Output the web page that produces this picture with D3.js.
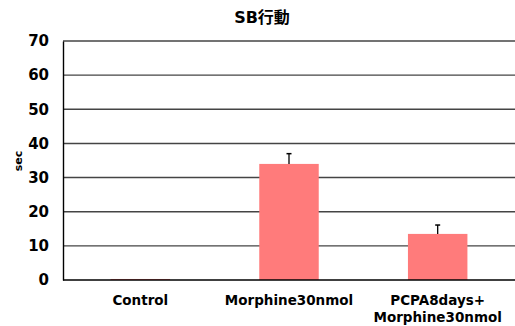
<!DOCTYPE html>
<html>
<head>
<meta charset="utf-8">
<script src="https://cdn.jsdelivr.net/npm/d3@7"></script>
<style>
  body { margin: 0; background: #fff; }
  text { font-family: "DejaVu Sans", "Noto Sans CJK JP", sans-serif; }
</style>
</head>
<body>
<script>
// data
var categories = ["Control", "Morphine30nmol", "PCPA8days+\nMorphine30nmol"];
var values = [0.3, 34, 13.5];
var errors = [0, 3, 2.6];
var yTicks = [0, 10, 20, 30, 40, 50, 60, 70];

var W = 515, H = 326;
var margin = {top: 41, right: 0, bottom: 46, left: 63};
var width = W - margin.left - margin.right,
    height = H - margin.top - margin.bottom;

var svg = d3.select("body").append("svg")
    .attr("width", W)
    .attr("height", H);

var g = svg.append("g")
    .attr("transform", "translate(" + margin.left + "," + margin.top + ")");

var x = d3.scaleBand().domain(categories).range([0, width]).paddingInner(0.6).paddingOuter(0.32);
var y = d3.scaleLinear().domain([0, 70]).range([height, 0]);

// gridlines
g.selectAll(".grid")
    .data(yTicks.slice(1))
    .enter()
    .append("line")
    .attr("x1", 0)
    .attr("x2", width)
    .attr("y1", function (d) { return y(d); })
    .attr("y2", function (d) { return y(d); })
    .attr("stroke", "#444")
    .attr("stroke-width", 1.4);

// bars
g.selectAll(".bar")
    .data(values)
    .enter()
    .append("rect")
    .attr("x", function (d, i) { return x(categories[i]); })
    .attr("y", function (d) { return y(d); })
    .attr("width", x.bandwidth())
    .attr("height", function (d) { return height - y(d); })
    .attr("fill", "#ff7b7b");

// error bars
values.forEach(function (v, i) {
    if (errors[i] <= 0) return;
    var cx = x(categories[i]) + x.bandwidth() / 2;
    g.append("line")
        .attr("x1", cx).attr("x2", cx)
        .attr("y1", y(v)).attr("y2", y(v + errors[i]))
        .attr("stroke", "#000").attr("stroke-width", 1.3);
    g.append("line")
        .attr("x1", cx - 2.5).attr("x2", cx + 2.5)
        .attr("y1", y(v + errors[i])).attr("y2", y(v + errors[i]))
        .attr("stroke", "#000").attr("stroke-width", 1.5);
});

// axes
var yAxis = d3.axisLeft(y).tickValues(yTicks).tickSize(0).tickPadding(14);
var ya = g.append("g").call(yAxis);
ya.select(".domain").attr("stroke", "#000").attr("stroke-width", 1.4);
ya.selectAll("text")
    .attr("font-family", "DejaVu Sans, sans-serif")
    .attr("font-size", 15)
    .attr("font-weight", "bold")
    .attr("fill", "#000");

g.append("line")
    .attr("x1", 0).attr("x2", width)
    .attr("y1", height).attr("y2", height)
    .attr("stroke", "#000").attr("stroke-width", 1.4);

// x labels, one text per line
categories.forEach(function (c, i) {
    c.split("\n").forEach(function (line, j) {
        g.append("text")
            .attr("x", x(c) + x.bandwidth() / 2)
            .attr("y", height + 25 + j * 17)
            .attr("text-anchor", "middle")
            .attr("font-size", 13.5)
            .attr("font-weight", "bold")
            .attr("fill", "#000")
            .text(line);
    });
});

// title
svg.append("text")
    .attr("x", 262)
    .attr("y", 23)
    .attr("text-anchor", "middle")
    .attr("font-size", 16)
    .attr("font-weight", "bold")
    .text("SB行動");

// y label
svg.append("text")
    .attr("transform", "translate(22,161) rotate(-90)")
    .attr("text-anchor", "middle")
    .attr("font-size", 11)
    .attr("font-weight", "bold")
    .text("sec");
</script>
</body>
</html>
